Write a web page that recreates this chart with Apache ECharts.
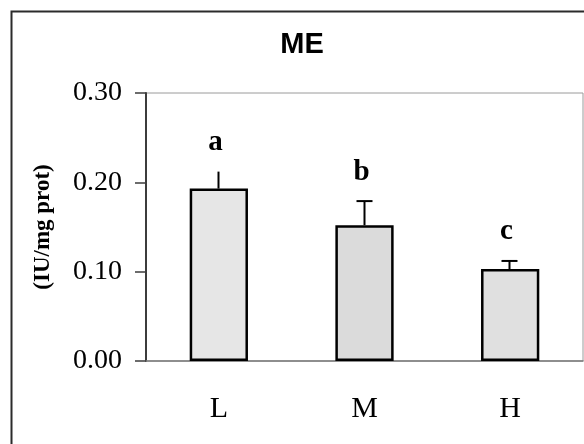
<!DOCTYPE html>
<html>
<head>
<meta charset="utf-8">
<script src="https://cdn.jsdelivr.net/npm/echarts@6/dist/echarts.min.js"></script>
<style>html,body{margin:0;padding:0;background:#fff;}#c{width:584px;height:444px;}</style>
</head>
<body>
<div id="c"></div>
<script>
var categories = ['L', 'M', 'H'];
var means = [0.193, 0.152, 0.103];
var errTops = [0.212, 0.179, 0.112];
var sigLetters = ['a', 'b', 'c'];
var yTicks = [0, 0.1, 0.2, 0.3];

var barColors = ['#e6e6e6', '#dbdbdb', '#e0e0e0'];
var capWidths = [0, 16, 16];

var chart = echarts.init(document.getElementById('c'), null, {renderer: 'canvas'});
chart.setOption({
  animation: false,
  backgroundColor: '#fff',
  graphic: [
    {type: 'rect', left: 9, top: 9, shape: {x: 0, y: 0, width: 620, height: 500},
     style: {fill: 'none', stroke: '#2b2b2b', lineWidth: 2}, z: -1},
    {type: 'text', x: 302, y: 45,
     style: {text: 'ME', font: 'bold 29px "Liberation Sans", Arial, sans-serif', fill: '#000',
             textAlign: 'center', textVerticalAlign: 'middle'}}
  ],
  grid: {left: 146, right: 1, top: 93, bottom: 83, show: true, borderColor: '#9a9a9a', borderWidth: 1},
  xAxis: {
    type: 'category', data: categories,
    axisLine: {lineStyle: {color: '#7a7a7a', width: 1.5}},
    axisTick: {show: false},
    axisLabel: {margin: 33, color: '#000', fontSize: 30, fontFamily: '"Liberation Serif", "Times New Roman", serif'}
  },
  yAxis: {
    type: 'value', min: yTicks[0], max: yTicks[yTicks.length - 1], interval: 0.1,
    name: '(IU/mg prot)', nameLocation: 'middle', nameGap: 91,
    nameTextStyle: {fontSize: 23, fontWeight: 'bold', color: '#000', fontFamily: '"Liberation Serif", "Times New Roman", serif'},
    axisLine: {show: true, lineStyle: {color: '#3c3c3c', width: 2}},
    axisTick: {show: true, length: 11, lineStyle: {color: '#3c3c3c', width: 1.5}},
    splitLine: {show: false},
    axisLabel: {margin: 24, color: '#000', fontSize: 28, fontFamily: '"Liberation Serif", "Times New Roman", serif',
      formatter: function (v) { return v.toFixed(2); }}
  },
  series: [
    {
      type: 'bar', barWidth: '40%',
      data: means.map(function (v, i) {
        return {value: v, itemStyle: {color: barColors[i]}};
      }),
      itemStyle: {borderColor: '#000', borderWidth: 2.5},
      z: 2
    },
    {
      type: 'custom',
      data: categories.map(function (c, i) { return [i, means[i], errTops[i]]; }),
      renderItem: function (params, api) {
        var i = api.value(0);
        var base = api.coord([i, api.value(1)]);
        var top = api.coord([i, api.value(2)]);
        var x = Math.round(top[0]) - 0.5;
        var cw = capWidths[params.dataIndex];
        var children = [
          {type: 'line', shape: {x1: x, y1: base[1], x2: x, y2: top[1]},
           style: {stroke: '#000', lineWidth: 2}}
        ];
        if (cw > 0) {
          children.push({type: 'line', shape: {x1: x - cw / 2, y1: top[1], x2: x + cw / 2, y2: top[1]},
            style: {stroke: '#000', lineWidth: 2}});
        }
        children.push({type: 'text', x: x - 3, y: top[1] - 29,
          style: {text: sigLetters[params.dataIndex], fill: '#000',
            font: 'bold 29px "Liberation Serif", "Times New Roman", serif',
            textAlign: 'center', textVerticalAlign: 'middle'}});
        return {type: 'group', children: children};
      },
      z: 3
    }
  ]
});
</script>
</body>
</html>
